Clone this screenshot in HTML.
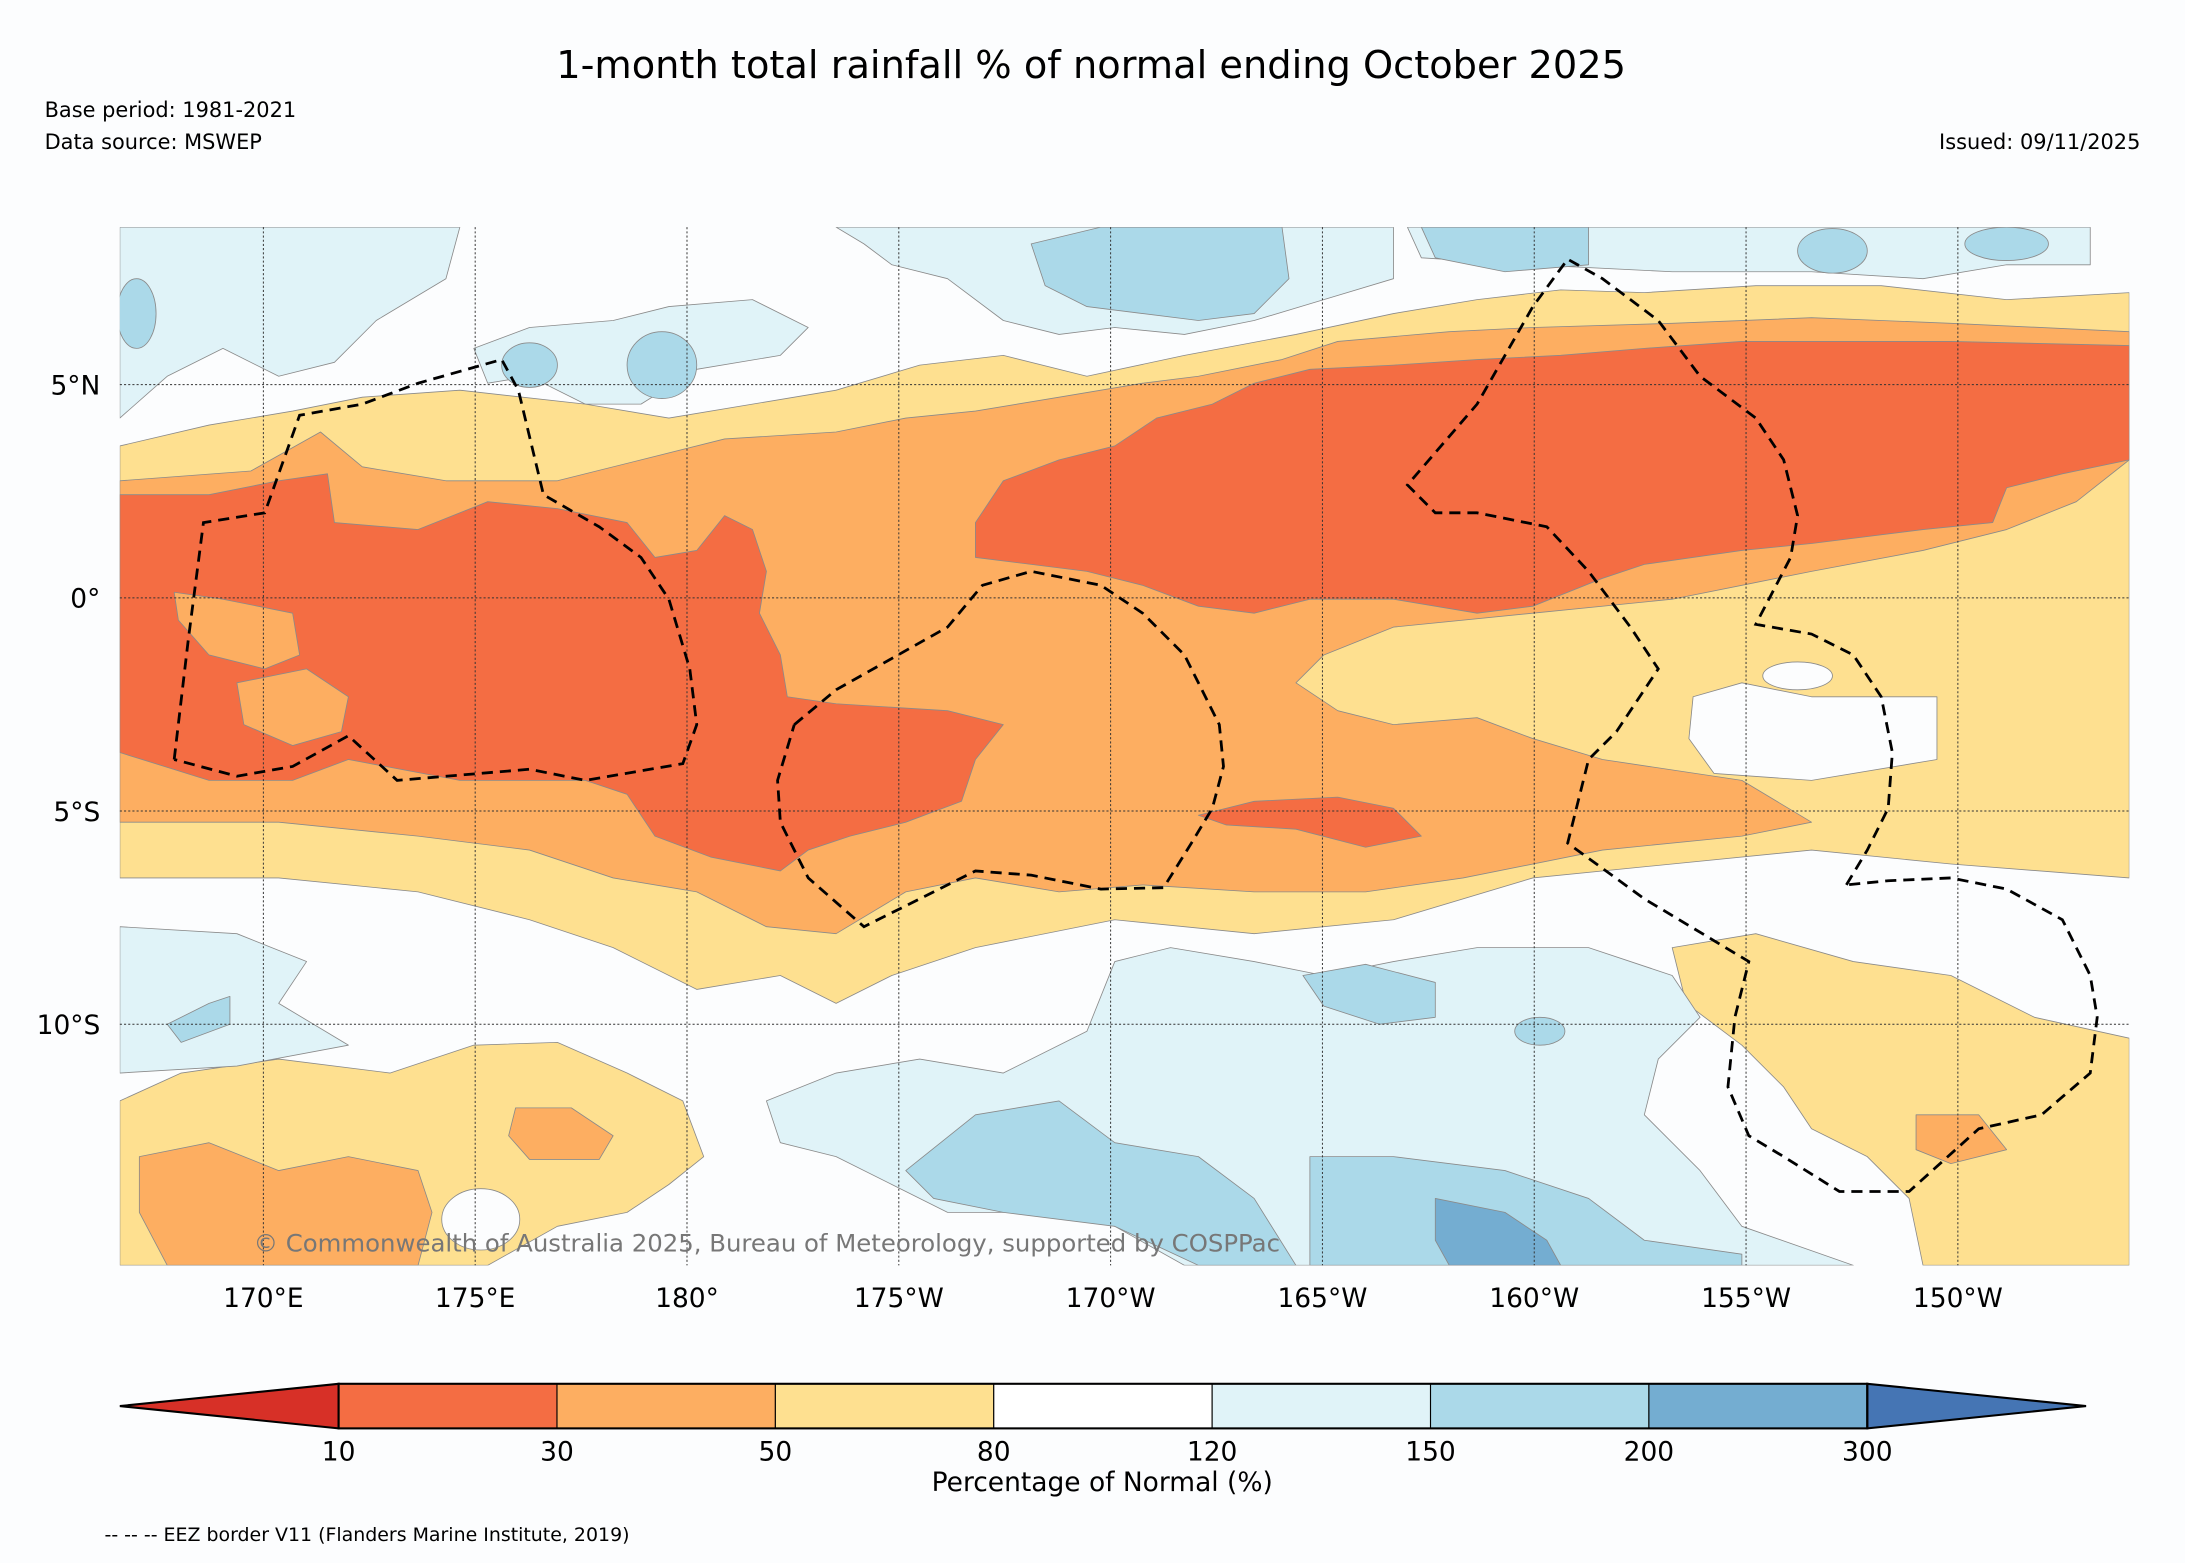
<!DOCTYPE html>
<html><head><meta charset="utf-8"><style>
html,body{margin:0;padding:0;background:#fcfdfe;}
svg{display:block;font-family:"Liberation Sans","DejaVu Sans",sans-serif;}
</style></head><body>
<svg id="fig" width="2185" height="1563" viewBox="0 0 1568 1121.6" preserveAspectRatio="none" xmlns="http://www.w3.org/2000/svg">
<rect width="1568" height="1121.6" fill="#fcfdfe"/>
<text x="783" y="56" font-size="27.5" text-anchor="middle" font-family="DejaVu Sans,sans-serif">1-month total rainfall % of normal ending October 2025</text>
<text x="32" y="84" font-size="15" font-family="DejaVu Sans,sans-serif">Base period: 1981-2021</text>
<text x="32" y="107" font-size="15" font-family="DejaVu Sans,sans-serif">Data source: MSWEP</text>
<text x="1536" y="107" font-size="15" text-anchor="end" font-family="DejaVu Sans,sans-serif">Issued: 09/11/2025</text>
<defs><clipPath id="mapclip"><rect x="86" y="163" width="1442" height="745"/></clipPath></defs>
<g id="map" clip-path="url(#mapclip)" stroke="#8a8a8a" stroke-width="0.6" stroke-linejoin="round">
<rect x="86" y="163" width="1442" height="745" fill="#fcfdfe" stroke="none"/>
<polygon fill="#e0f3f8" points="86,163 330,163 320,200 270,230 240,260 200,270 160,250 120,270 86,300"/>
<polygon fill="#e0f3f8" points="340,250 380,235 440,230 480,220 540,215 580,235 560,255 500,265 460,290 420,290 380,270 350,275"/>
<polygon fill="#e0f3f8" points="600,163 1000,163 1000,200 950,215 900,230 850,240 800,235 760,240 720,230 680,200 640,190 620,175"/>
<polygon fill="#e0f3f8" points="1010,163 1500,163 1500,190 1440,190 1380,200 1300,195 1200,195 1100,190 1020,185"/>
<ellipse fill="#abd9e9" cx="98" cy="225" rx="14" ry="25"/>
<ellipse fill="#abd9e9" cx="380" cy="262" rx="20" ry="16"/>
<ellipse fill="#abd9e9" cx="475" cy="262" rx="25" ry="24"/>
<polygon fill="#abd9e9" points="740,175 790,163 920,163 925,200 900,225 860,230 820,225 780,220 750,205"/>
<polygon fill="#abd9e9" points="1020,163 1140,163 1140,190 1080,195 1030,185"/>
<ellipse fill="#abd9e9" cx="1315" cy="180" rx="25" ry="16"/>
<ellipse fill="#abd9e9" cx="1440" cy="175" rx="30" ry="12"/>
<polygon fill="#fee090" points="86,320 150,305 210,295 260,285 330,280 420,290 480,300 540,290 600,280 660,262 720,255 780,270 850,255 930,240 1000,225 1060,215 1120,208 1180,210 1260,205 1350,205 1440,215 1528,210 1528,630 1400,620 1300,610 1200,620 1100,630 1000,660 900,670 800,660 700,680 640,700 600,720 560,700 500,710 440,680 380,660 300,640 200,630 86,630"/>
<polygon fill="#fcfdfe" points="1215,500 1250,490 1300,500 1390,500 1390,545 1300,560 1230,555 1212,530"/>
<ellipse fill="#fcfdfe" cx="1290" cy="485" rx="25" ry="10"/>
<polygon fill="#fee090" points="1200,680 1260,670 1330,690 1400,700 1460,730 1528,745 1528,908 1380,908 1370,860 1340,830 1300,810 1280,780 1250,750 1210,720"/>
<polygon fill="#fee090" points="86,790 130,770 200,760 280,770 340,750 400,748 450,770 490,790 505,830 480,850 450,870 400,880 350,908 86,908"/>
<ellipse fill="#fcfdfe" cx="345" cy="875" rx="28" ry="22"/>
<polygon fill="#fdae61" points="100,830 150,820 200,840 250,830 300,840 310,870 300,908 120,908 100,870"/>
<polygon fill="#fdae61" points="370,795 410,795 440,815 430,832 380,832 365,815"/>
<polygon fill="#fdae61" points="1375,800 1420,800 1440,825 1400,835 1375,825"/>
<polygon fill="#fdae61" points="86,345 180,338 230,310 260,335 320,345 400,345 460,330 520,315 600,310 650,300 700,295 760,285 820,275 860,270 920,258 960,245 1040,238 1100,235 1200,232 1300,228 1400,232 1528,238 1528,330 1490,360 1440,380 1380,395 1300,410 1250,420 1200,430 1100,440 1000,450 950,470 930,490 960,510 1000,520 1060,515 1100,530 1150,545 1250,560 1300,590 1250,600 1150,610 1050,630 980,640 900,640 820,635 760,640 700,630 650,640 600,670 550,665 500,640 440,630 380,610 300,600 200,590 86,590"/>
<polygon fill="#f46d43" points="86,355 150,355 200,345 235,340 240,375 300,380 350,360 400,365 450,375 470,400 500,395 520,370 540,380 550,410 545,440 560,470 565,500 600,505 680,510 720,520 700,545 690,575 650,590 610,600 580,610 560,625 510,615 470,600 450,570 420,560 330,560 250,545 210,560 150,560 86,540"/>
<polygon fill="#fdae61" points="125,425 160,430 210,440 215,470 190,480 150,470 128,445"/>
<polygon fill="#fdae61" points="170,490 220,480 250,500 245,525 210,535 175,520"/>
<polygon fill="#f46d43" points="700,375 720,345 760,330 800,320 830,300 870,290 900,275 940,265 1000,262 1060,258 1120,255 1180,250 1250,245 1300,245 1400,245 1528,248 1528,330 1480,340 1440,350 1430,375 1380,380 1300,390 1250,395 1180,405 1150,415 1100,435 1060,440 1000,430 940,430 900,440 860,435 820,420 780,410 740,405 700,400"/>
<polygon fill="#f46d43" points="860,585 900,575 960,572 1000,580 1020,600 980,608 930,595 880,592"/>
<polygon fill="#e0f3f8" points="86,665 170,670 220,690 200,720 250,750 170,765 86,770"/>
<polygon fill="#abd9e9" points="120,735 150,720 165,715 165,735 130,748"/>
<polygon fill="#e0f3f8" points="550,790 600,770 660,760 720,770 780,740 800,690 840,680 900,690 950,700 1000,690 1060,680 1140,680 1200,700 1220,730 1190,760 1180,800 1220,840 1250,880 1330,908 850,908 800,880 750,870 680,870 640,850 600,830 560,820"/>
<polygon fill="#abd9e9" points="650,840 700,800 760,790 800,820 860,830 900,860 930,908 860,908 800,880 720,870 670,860"/>
<polygon fill="#abd9e9" points="940,830 1000,830 1080,840 1140,860 1180,890 1250,900 1250,908 940,908"/>
<polygon fill="#74add1" points="1030,860 1080,870 1110,890 1120,908 1040,908 1030,890"/>
<polygon fill="#abd9e9" points="935,700 980,692 1030,705 1030,730 990,735 950,722"/>
<ellipse fill="#abd9e9" cx="1105" cy="740" rx="18" ry="10"/>
</g>
<g id="grid" stroke="#333" stroke-width="0.7" stroke-dasharray="1.5,1.5" fill="none"></g>
<g id="eez" fill="none" stroke="#000" stroke-width="2" stroke-dasharray="8,5">
<polyline points="125,545 135,460 146,375 190,368 215,298 260,290 300,275 360,258 372,280 390,355 430,378 460,400 480,430 495,480 500,520 490,548 420,560 380,552 285,560 250,528 210,550 170,557 125,545"/>
<polyline points="570,520 600,495 680,450 705,420 740,410 790,420 820,440 850,470 875,520 878,550 870,580 855,605 835,637 790,638 740,628 700,625 620,665 580,630 560,590 558,560 570,520"/>
<polyline points="1325,635 1340,610 1355,580 1358,540 1350,500 1330,470 1300,455 1260,448 1285,400 1290,370 1280,330 1260,300 1220,270 1190,230 1150,200 1125,186 1100,220 1060,290 1010,348 1030,368 1060,368 1110,378 1140,410 1170,450 1190,480 1160,525 1140,545 1125,605 1180,645 1230,675 1255,690 1245,730 1240,780 1255,815 1280,830 1320,855 1370,855 1420,810 1465,800 1500,770 1505,730 1500,700 1480,660 1440,638 1400,630 1355,632 1325,635"/>
</g>
<text x="182" y="898" font-size="17.5" fill="#777" font-family="DejaVu Sans,sans-serif">© Commonwealth of Australia 2025, Bureau of Meteorology, supported by COSPPac</text>
<g id="xticks" font-size="19" font-family="DejaVu Sans,sans-serif" text-anchor="middle"></g>
<g id="yticks" font-size="19" font-family="DejaVu Sans,sans-serif" text-anchor="end"></g>
<g id="cbar"></g>
<text x="791" y="1070" font-size="19" text-anchor="middle" font-family="DejaVu Sans,sans-serif">Percentage of Normal (%)</text>
<text x="75" y="1106" font-size="13.6" font-family="DejaVu Sans,sans-serif">-- -- -- EEZ border V11 (Flanders Marine Institute, 2019)</text>
</svg>
<script>
const lonTicks = [170, 175, 180, 185, 190, 195, 200, 205, 210];
const lonLabels = ["170°E", "175°E", "180°", "175°W", "170°W", "165°W", "160°W", "155°W", "150°W"];
const latTicks = [5, 0, -5, -10];
const latLabels = ["5°N", "0°", "5°S", "10°S"];
const cbarBounds = [10, 30, 50, 80, 120, 150, 200, 300];
const cbarColors = ["#d73027", "#f46d43", "#fdae61", "#fee090", "#ffffff", "#e0f3f8", "#abd9e9", "#74add1", "#4575b4"];

const NS = "http://www.w3.org/2000/svg";
const xLon = lon => 189 + (lon - 170) * 30.4;
const yLat = lat => 429 - lat * 30.6;
const cbX = i => 243 + i * (1340 - 243) / (cbarBounds.length - 1);
function mk(tag, attrs, parent) {
  const e = document.createElementNS(NS, tag);
  for (const k in attrs) e.setAttribute(k, attrs[k]);
  parent.appendChild(e);
  return e;
}
const grid = document.getElementById('grid');
lonTicks.forEach((lon) => {
  const l = mk('line', {x1: xLon(lon), x2: xLon(lon), y1: 163, y2: 908}, grid);
  
  
});
latTicks.forEach((lat) => {
  const l = mk('line', {x1: 86, x2: 1528, y1: yLat(lat), y2: yLat(lat)}, grid);
  
  
});
const xt = document.getElementById('xticks');
lonTicks.forEach((lon, i) => {
  const t = mk('text', {x: xLon(lon), y: 938}, xt);
  t.textContent = lonLabels[i];
  
  
});
const yt = document.getElementById('yticks');
latTicks.forEach((lat, i) => {
  const t = mk('text', {x: 72, y: yLat(lat) + 7}, yt);
  t.textContent = latLabels[i];
  
  
});
const cb = document.getElementById('cbar');
const cbTop = 993, cbBot = 1025, cbMid = 1009;
const leftTri = mk('polygon', {points: `86,${cbMid} ${cbX(0)},${cbTop} ${cbX(0)},${cbBot}`, fill: cbarColors[0], stroke: '#000', 'stroke-width': 1.5}, cb);


for (let i = 0; i < cbarBounds.length - 1; i++) {
  const r = mk('rect', {x: cbX(i), y: cbTop, width: cbX(i + 1) - cbX(i), height: cbBot - cbTop, fill: cbarColors[i + 1], stroke: '#000', 'stroke-width': 0.8}, cb);
  
  
}
const nSeg = cbarBounds.length - 1;
const rightTri = mk('polygon', {points: `${cbX(nSeg)},${cbTop} 1497,${cbMid} ${cbX(nSeg)},${cbBot}`, fill: cbarColors[cbarColors.length - 1], stroke: '#000', 'stroke-width': 1.5}, cb);


const cbFrame = mk('rect', {x: cbX(0), y: cbTop, width: cbX(nSeg) - cbX(0), height: cbBot - cbTop, fill: 'none', stroke: '#000', 'stroke-width': 1.5}, cb);


cbarBounds.forEach((v, i) => {
  const t = mk('text', {x: cbX(i), y: 1048, 'font-size': 19, 'text-anchor': 'middle', 'font-family': 'DejaVu Sans,sans-serif'}, cb);
  t.textContent = v;
  
  
});
</script>
</body></html>
